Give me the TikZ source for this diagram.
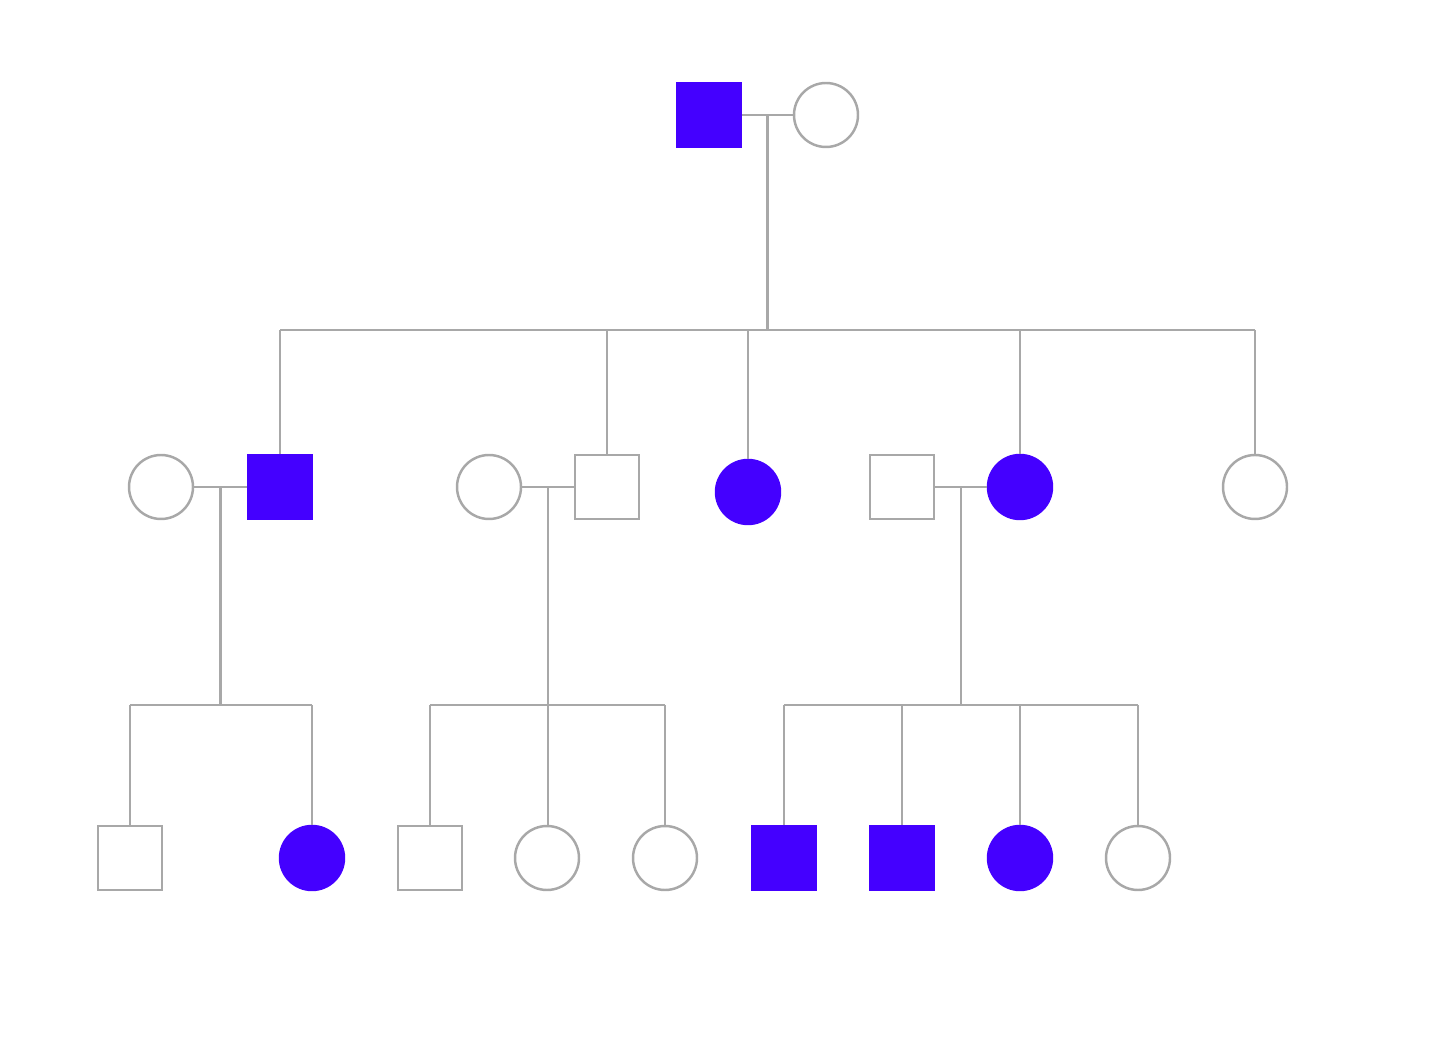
\documentclass[tikz,border=0pt]{standalone}
\usetikzlibrary{calc}
\definecolor{affected}{HTML}{4400FF}
\definecolor{pline}{HTML}{A8A8A8}
\begin{document}
\begin{tikzpicture}[x=0.02cm, y=-0.02cm,
        male/.style={rectangle, draw=pline, line width=1.4pt, minimum size=1.28cm, inner sep=0pt},
        female/.style={circle, draw=pline, line width=1.4pt, minimum size=1.28cm, inner sep=0pt},
        affm/.style={male, draw=affected, fill=affected},
        afff/.style={female, draw=affected, fill=affected},
        link/.style={pline, line width=1.6pt}]
        \useasboundingbox (0, 0) rectangle (1440, 1053);

        % generation I
        \draw (709, 115) node[affm](a1){}
        (826, 115) node[female](a2){};

        % generation II
        \draw (161, 487) node[female](b1){}
        (280, 487) node[affm](b2){}
        (489, 487) node[female](b3){}
        (607, 487) node[male](b4){}
        (748, 492) node[afff](b5){}
        (902, 487) node[male](b6){}
        (1020, 487) node[afff](b7){}
        (1255, 487) node[female](b8){};

        % generation III
        \draw (130, 858) node[male](c1){}
        (312, 858) node[afff](c2){}
        (430, 858) node[male](c3){}
        (547, 858) node[female](c4){}
        (665, 858) node[female](c5){}
        (784, 858) node[affm](c6){}
        (902, 858) node[affm](c7){}
        (1020, 858) node[afff](c8){}
        (1138, 858) node[female](c9){};

        % couples
        \coordinate (m1) at ($(a1.east)!0.5!(a2.west)$);
        \coordinate (m2) at ($(b1.east)!0.5!(b2.west)$);
        \coordinate (m3) at ($(b3.east)!0.5!(b4.west)$);
        \coordinate (m4) at ($(b6.east)!0.5!(b7.west)$);
        \coordinate (s1) at (767, 330);
        \coordinate (s2) at (220, 705);
        \coordinate (s3) at (547, 705);
        \coordinate (s4) at (960, 705);

        \draw[link] (a1.east) -- (a2.west);
        \draw[link] (b1.east) -- (b2.west);
        \draw[link] (b3.east) -- (b4.west);
        \draw[link] (b6.east) -- (b7.west);

        % descent and sibships
        \draw[link] (m1) -- (m1 |- s1);
        \draw[link] (b2 |- s1) -- (b8 |- s1);
        \draw[link] (b2 |- s1) -- (b2.north);
        \draw[link] (b4 |- s1) -- (b4.north);
        \draw[link] (b5 |- s1) -- (b5.north);
        \draw[link] (b7 |- s1) -- (b7.north);
        \draw[link] (b8 |- s1) -- (b8.north);

        \draw[link] (m2) -- (m2 |- s2);
        \draw[link] (c1 |- s2) -- (c2 |- s2);
        \draw[link] (c1 |- s2) -- (c1.north);
        \draw[link] (c2 |- s2) -- (c2.north);

        \draw[link] (m3) -- (m3 |- c4.north);
        \draw[link] (c3 |- s3) -- (c5 |- s3);
        \draw[link] (c3 |- s3) -- (c3.north);
        \draw[link] (c5 |- s3) -- (c5.north);

        \draw[link] (m4) -- (m4 |- s4);
        \draw[link] (c6 |- s4) -- (c9 |- s4);
        \draw[link] (c6 |- s4) -- (c6.north);
        \draw[link] (c7 |- s4) -- (c7.north);
        \draw[link] (c8 |- s4) -- (c8.north);
        \draw[link] (c9 |- s4) -- (c9.north);
    \end{tikzpicture}
\end{document}
